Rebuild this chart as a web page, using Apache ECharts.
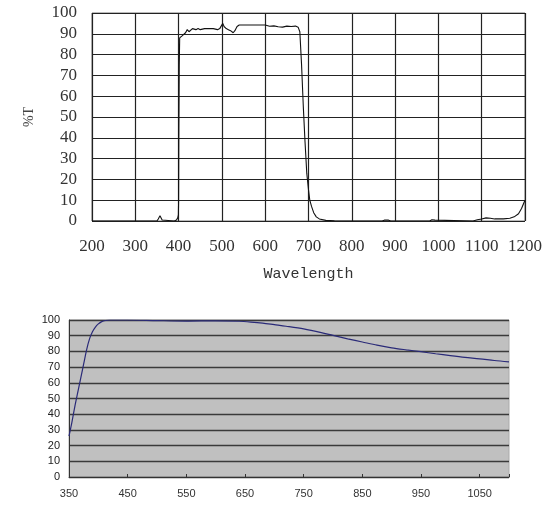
<!DOCTYPE html>
<html>
<head>
<meta charset="utf-8">
<script src="https://cdn.jsdelivr.net/npm/echarts@6/dist/echarts.min.js"></script>
<style>
html,body{margin:0;padding:0;background:#fff;}
#c{width:550px;height:509px;}
</style>
</head>
<body>
<div id="c"></div>
<script>
// Top chart: %T vs Wavelength
var topWavelength = [200,350,353,357,360,362,365,390,395,398,399.5,400,400.5,401.5,402.5,408,412,416,420,424,428,432,436,440,445,450,460,470,480,490,495,502,505,510,515,520,526,530,535,540,560,580,600,610,620,630,640,650,660,670,676,680,684,688,692,696,700,703,707,712,718,725,740,760,800,870,875,885,890,980,985,992,995,1080,1090,1100,1110,1120,1130,1150,1165,1175,1185,1192,1197,1200];
var topTransmission = [0,0,1,2.5,2,0.5,0,0,0.5,1.5,3,10,40,75,88,89,89.5,90.5,92,91,91.5,92.5,92,92,92.5,92,92.5,92.5,92.5,92,92.5,95,93.5,92.5,92,91.5,90.5,91.5,93.5,94.2,94.2,94.2,94.2,93.6,93.8,93.4,93.2,93.7,93.5,93.7,93.2,91,75,55,38,23,15,10,7,4,2,1,0.3,0.1,0,0,0.4,0.4,0,0,0.6,0.4,0,0,0.6,1,1.5,1.3,1,1,1.3,2,3.5,6,8.5,10];
var topXTicks = [200,300,400,500,600,700,800,900,1000,1100,1200];
var topYTicks = [0,10,20,30,40,50,60,70,80,90,100];

// Bottom chart
var bottomWavelength = [350,355,360,365,370,375,380,385,390,395,400,405,410,420,450,500,550,600,640,660,680,700,720,750,780,800,825,850,875,900,925,950,975,1000,1025,1050,1075,1100];
var bottomTransmission = [26,35,45,54,63,72,81,88,92.5,95.5,97.5,98.8,99.5,100,100,99.6,99.3,99.5,99.2,98.7,98,97,96,94.3,92,90.2,88,86,84,82.3,81,79.8,78.5,77.3,76.2,75.3,74.2,73.3];
var bottomXTicks = [350,450,550,650,750,850,950,1050];
var bottomYTicks = [0,10,20,30,40,50,60,70,80,90,100];

function pairs(xs, ys){ return xs.map(function(x,i){ return [x, ys[i]]; }); }

var serif = '"Liberation Serif", serif';
var sans = '"Liberation Sans", Arial, sans-serif';

var chart = echarts.init(document.getElementById('c'), null, {renderer:'canvas'});
chart.setOption({
  animation:false,
  backgroundColor:'#ffffff',
  grid:[
    {left:92, top:13, width:433, height:208, show:true, borderColor:'#777', borderWidth:1, backgroundColor:'#fff'},
    {left:69, top:320, width:440, height:157, show:true, borderColor:'#aaa', borderWidth:1, backgroundColor:'#c0c0c0'}
  ],
  xAxis:[
    {gridIndex:0, type:'value', min:topXTicks[0], max:topXTicks[topXTicks.length-1], interval:100,
     name:'Wavelength', nameLocation:'middle', nameGap:46,
     nameTextStyle:{fontFamily:'"Liberation Mono", monospace', fontSize:15, color:'#333'},
     axisLine:{show:false}, axisTick:{show:false},
     axisLabel:{fontFamily:serif, fontSize:17, color:'#333', margin:17,
       formatter:function(v){ return String(v); }},
     splitLine:{show:true, lineStyle:{color:'#222', width:1.2}}},
    {gridIndex:1, type:'value', min:bottomXTicks[0], max:1100, interval:100,
     axisLine:{show:true, lineStyle:{color:'#333', width:1}},
     axisTick:{show:true, inside:true, length:3, lineStyle:{color:'#333'}},
     axisLabel:{fontFamily:sans, fontSize:11, color:'#333', margin:11,
       formatter:function(v){ return bottomXTicks.indexOf(v) >= 0 ? String(v) : ''; }},
     splitLine:{show:false}}
  ],
  yAxis:[
    {gridIndex:0, type:'value', min:topYTicks[0], max:topYTicks[topYTicks.length-1], interval:10,
     name:'%T', nameLocation:'middle', nameGap:56, nameRotate:90,
     nameTextStyle:{fontFamily:serif, fontSize:14, color:'#444'},
     axisLine:{show:false}, axisTick:{show:false},
     axisLabel:{fontFamily:serif, fontSize:17, color:'#333', margin:15,
       formatter:function(v){ return String(v); }},
     splitLine:{show:true, lineStyle:{color:'#222', width:1.2}}},
    {gridIndex:1, type:'value', min:bottomYTicks[0], max:bottomYTicks[bottomYTicks.length-1], interval:10,
     axisLine:{show:true, lineStyle:{color:'#333', width:1}},
     axisTick:{show:false},
     axisLabel:{fontFamily:sans, fontSize:11, color:'#222', margin:9},
     splitLine:{show:true, lineStyle:{color:'#3a3a3a', width:1.3}}}
  ],
  series:[
    {type:'line', xAxisIndex:0, yAxisIndex:0, data:pairs(topWavelength, topTransmission),
     showSymbol:false, symbol:'none', lineStyle:{color:'#111', width:1.1}, z:5},
    {type:'line', xAxisIndex:1, yAxisIndex:1, data:pairs(bottomWavelength, bottomTransmission),
     showSymbol:false, symbol:'none', smooth:0.3, lineStyle:{color:'#2a2a78', width:1.2}, z:5}
  ]
});
</script>
</body>
</html>
